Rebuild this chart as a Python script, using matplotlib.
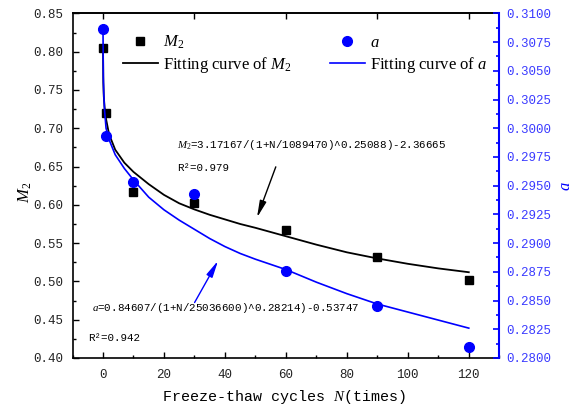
import matplotlib
matplotlib.use("Agg")
import matplotlib.pyplot as plt
from matplotlib.lines import Line2D
from matplotlib.ticker import MultipleLocator, FormatStrFormatter

plt.rcParams['font.family'] = ['Liberation Serif', 'DejaVu Serif']
plt.rcParams['mathtext.fontset'] = 'custom'
plt.rcParams['mathtext.rm'] = 'Liberation Serif'
plt.rcParams['mathtext.it'] = 'Liberation Serif:italic'

# measured values
cycles = [0, 1, 10, 30, 60, 90, 120]
m2_values = [0.805, 0.720, 0.617, 0.603, 0.567, 0.532, 0.502]
a_values = [0.3086, 0.2993, 0.2953, 0.2943, 0.2876, 0.2845, 0.2810]

# fitted curves, sampled along N
fit_cycles = [0, 0.1, 0.25, 0.5, 1, 2, 4, 7, 10, 15, 20, 25, 30, 35, 40, 45,
              50, 60, 70, 80, 90, 100, 110, 120]
m2_fit = [0.805, 0.760, 0.742, 0.728, 0.712, 0.692, 0.672, 0.655, 0.643,
          0.627, 0.613, 0.602, 0.594, 0.587, 0.581, 0.575, 0.570, 0.559,
          0.548, 0.538, 0.530, 0.523, 0.517, 0.512]
a_fit = [0.3086, 0.3045, 0.3030, 0.3016, 0.3000, 0.2990, 0.2977, 0.2965,
         0.2955, 0.2940, 0.2929, 0.2920, 0.2912, 0.2904, 0.2897, 0.2891,
         0.2886, 0.2877, 0.2866, 0.2856, 0.2847, 0.2840, 0.2833, 0.2826]

m2_eq = '$M_2$=3.17167/(1+N/1089470)^0.25088)-2.36665'
m2_r2 = 'R²=0.979'
a_eq = '$a$=0.84607/(1+N/25036600)^0.28214)-0.53747'
a_r2 = 'R²=0.942'

MONO = 'Liberation Mono'
BLUE = '#0000ff'

fig = plt.figure(figsize=(5.83, 4.07), dpi=100)
ax = fig.add_axes([0.1244, 0.1204, 0.732, 0.8467])
ax2 = ax.twinx()

ax.plot(fit_cycles, m2_fit, color='black', lw=1.3, zorder=2)
ax.plot(cycles, m2_values, 's', color='black', ms=6, zorder=3)
ax2.plot(fit_cycles, a_fit, color=BLUE, lw=1.2, zorder=2)
ax2.plot(cycles, a_values, 'o', color=BLUE, ms=7, zorder=3)

ax.set_xlim(-10, 130)
ax.set_ylim(0.40, 0.85)
ax2.set_ylim(0.28, 0.31)

ax.xaxis.set_major_locator(MultipleLocator(20))
ax.xaxis.set_minor_locator(MultipleLocator(10))
ax.yaxis.set_major_locator(MultipleLocator(0.05))
ax.yaxis.set_minor_locator(MultipleLocator(0.025))
ax.yaxis.set_major_formatter(FormatStrFormatter('%.2f'))
ax2.yaxis.set_major_locator(MultipleLocator(0.0025))
ax2.yaxis.set_minor_locator(MultipleLocator(0.00125))
ax2.yaxis.set_major_formatter(FormatStrFormatter('%.4f'))

ax.tick_params(axis='both', which='major', direction='in', length=4.5, width=1)
ax.tick_params(axis='both', which='minor', direction='in', length=2.3, width=1)
ax.tick_params(axis='y', pad=7)
ax.tick_params(axis='x', pad=8)
ax2.tick_params(axis='y', which='major', direction='in', length=4.5, width=1.2,
                color=BLUE, labelcolor='#3a3aff', pad=5)
ax2.tick_params(axis='y', which='minor', direction='in', length=2.3, width=1.2,
                color=BLUE)

for lab in ax.get_xticklabels() + ax.get_yticklabels():
    lab.set_fontfamily(MONO)
    lab.set_fontsize(9)
    lab.set_color('#222222')
for lab in ax2.get_yticklabels():
    lab.set_fontfamily(MONO)
    lab.set_fontsize(9)

for sp in ax.spines.values():
    sp.set_linewidth(1.2)
ax.spines['right'].set_visible(False)
for name in ['left', 'top', 'bottom']:
    ax2.spines[name].set_visible(False)
ax2.spines['right'].set_color(BLUE)
ax2.spines['right'].set_linewidth(1.5)

# ticks along the top edge
top = ax.secondary_xaxis('top')
top.set_xticks([0, 30, 60, 90, 120])
top.tick_params(direction='in', length=4.5, width=1, labeltop=False)
top.spines['top'].set_linewidth(1.2)

ax.set_xlabel('Freeze-thaw cycles $N$(times)', fontfamily=MONO, fontsize=10.8)
ax.xaxis.set_label_coords(0.4955, -0.112)
ax.xaxis.label.set_va('center')
ax.set_ylabel('$M_2$', fontsize=12)
ax.yaxis.set_label_coords(-0.111, 0.48)
ax.yaxis.label.set_va('center')
ax2.set_ylabel('$a$', fontsize=12, color=BLUE)
ax2.yaxis.set_label_coords(1.156, 0.50)
ax2.yaxis.label.set_va('center')

# fit equations and arrows
ax.text(24.4, 0.678, m2_eq, fontfamily=MONO, fontsize=7.8, va='center', ha='left')
ax.text(24.4, 0.648, m2_r2, fontfamily=MONO, fontsize=7.8, va='center', ha='left')
ax.text(-3.5, 0.465, a_eq, fontfamily=MONO, fontsize=7.8, va='center', ha='left')
ax.text(-4.8, 0.426, a_r2, fontfamily=MONO, fontsize=7.8, va='center', ha='left')

ax.annotate('', xy=(50.2, 0.580), xytext=(57.0, 0.653),
            arrowprops=dict(arrowstyle='-|>,head_length=1.0,head_width=0.2',
                            color='black', lw=1.0, mutation_scale=10))
ax2.annotate('', xy=(38.2, 0.28868), xytext=(29.6, 0.28462),
             arrowprops=dict(arrowstyle='-|>,head_length=1.0,head_width=0.2',
                             color=BLUE, lw=1.0, mutation_scale=10))

handles = [
    Line2D([], [], ls='none', marker='s', color='black', ms=6),
    Line2D([], [], color='black', lw=1.3),
    Line2D([], [], ls='none', marker='o', color=BLUE, ms=7),
    Line2D([], [], color=BLUE, lw=1.2),
]
labels = ['$M_2$', 'Fitting curve of $M_2$', '$a$', 'Fitting curve of $a$']
leg = ax2.legend(handles, labels, ncol=2, loc='upper left',
                 bbox_to_anchor=(0.118, 0.941), frameon=False,
                 borderaxespad=0, borderpad=0, handlelength=2.1,
                 handletextpad=0.3, columnspacing=2.3, labelspacing=0.25,
                 fontsize=12)

fig.savefig('out.png', dpi=100)
